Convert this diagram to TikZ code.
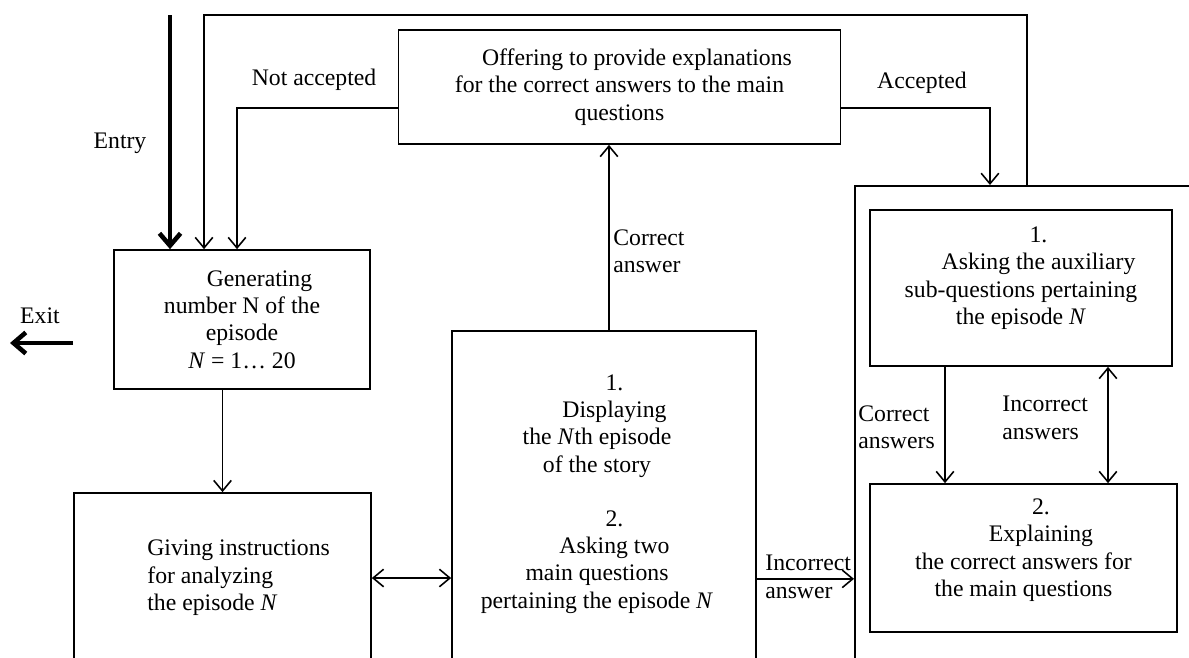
\documentclass[tikz,border=0pt]{standalone}
\usepackage{fontspec}
\setmainfont{Liberation Serif}
\usetikzlibrary{arrows.meta}

\newcommand{\ind}{\hspace*{0.7cm}}

\tikzset{
  box/.style={draw, line width=1pt, inner sep=0pt, align=center},
  openbox/.style={draw, line width=1pt, inner sep=0pt},
  txt/.style={inner sep=0pt, align=center},
  lbl/.style={inner sep=0pt, align=left},
  link/.style={line width=0.9pt, -{Straight Barb[length=6pt,width=10pt]}},
  twoway/.style={line width=0.9pt, {Straight Barb[length=6pt,width=10pt]}-{Straight Barb[length=6pt,width=10pt]}},
  thickarrow/.style={line width=2.6pt, -{Straight Barb[length=7pt,width=12pt]}},
}

\begin{document}
\begin{tikzpicture}[x=0.02cm, y=-0.02cm, every node/.style={font=\fontsize{13.5}{15.6}\selectfont}]
    \useasboundingbox (0,0) rectangle (1189,657);
    \clip (0,0) rectangle (1189,657);

    % boxes
    \node[box, minimum width=8.84cm, minimum height=2.28cm] (offer) at (619.5,87) {\ind Offering to provide explanations\\for the correct answers to the main\\questions};
    \node[box, minimum width=5.12cm, minimum height=2.78cm] (gen) at (242,319.5) {\ind Generating\\number N of the\\episode\\\textit{N} = 1\ldots\ 20};
    \node[openbox, minimum width=5.94cm, minimum height=3.4cm] (giveframe) at (222.5,578) {};
    \node[lbl, anchor=west] (give) at (147,578) {Giving instructions\\ for analyzing\\ the episode \textit{N}};
    \node[openbox, minimum width=6.08cm, minimum height=8cm, anchor=north] (story) at (604,330) {};
    \node[txt] (storytext) at (597,494) {\ind 1.\\\ind Displaying\\the \textit{N}th episode\\of the story\\[15pt]\ind 2.\\\ind Asking two\\main questions\\pertaining the episode \textit{N}};
    \node[openbox, minimum width=8cm, minimum height=12cm, anchor=north west] (side) at (854,185) {};
    \node[box, minimum width=6.04cm, minimum height=3.12cm, text depth=0.5cm] (aux) at (1021,288) {\ind 1.\\\ind Asking the auxiliary\\sub-questions pertaining\\the episode \textit{N}};
    \node[box, minimum width=6.14cm, minimum height=2.96cm, text depth=0.42cm] (expl) at (1023.5,558) {\ind 2.\\\ind Explaining\\the correct answers for\\the main questions};

    % labels
    \node[txt] (entrylbl) at (120,143) {Entry};
    \node[txt] (exitlbl) at (40,316) {Exit};
    \node[txt] (notacc) at (314,80) {Not accepted};
    \node[txt] (acc) at (922,83) {Accepted};
    \node[lbl, anchor=west] (corr) at (613,251) {Correct\\answer};
    \node[lbl, anchor=west] (incorr) at (765,577) {Incorrect\\answer};
    \node[lbl, anchor=west] (corrs) at (858,427) {Correct\\answers};
    \node[lbl, anchor=west] (incorrs) at (1002,418) {Incorrect\\answers};

    \coordinate (entry) at (170,15);
    \coordinate (loop) at (1027,15);
    \coordinate (exitfrom) at (73,343);
    \coordinate (exitto) at (10,343);

    % connectors
    \draw[thickarrow] (entry) -- (entry |- gen.north);
    \draw[thickarrow] (exitfrom) -- (exitto);
    \draw[link] (loop |- side.north) -- (loop) -| ([xshift=-0.76cm]gen.north);
    \draw[link] ([yshift=-0.42cm]offer.west) -| ([xshift=-0.1cm]gen.north);
    \draw[link] ([yshift=-0.42cm]offer.east) -| ([xshift=2.72cm]side.north west);
    \draw[link] (giveframe.north |- gen.south) -- (giveframe.north);
    \draw[twoway] (giveframe.east) -- (giveframe.east -| story.west);
    \draw[link] ([xshift=0.1cm]story.north) -- ([xshift=0.1cm]story.north |- offer.south);
    \draw[link] ([yshift=-0.96cm]story.east) -- ([yshift=-0.96cm]story.east -| side.west);
    \draw[link] ([xshift=-1.52cm]aux.south) -- ([xshift=-1.52cm]aux.south |- expl.north);
    \draw[twoway] ([xshift=1.74cm]aux.south) -- ([xshift=1.74cm]aux.south |- expl.north);
\end{tikzpicture}
\end{document}
